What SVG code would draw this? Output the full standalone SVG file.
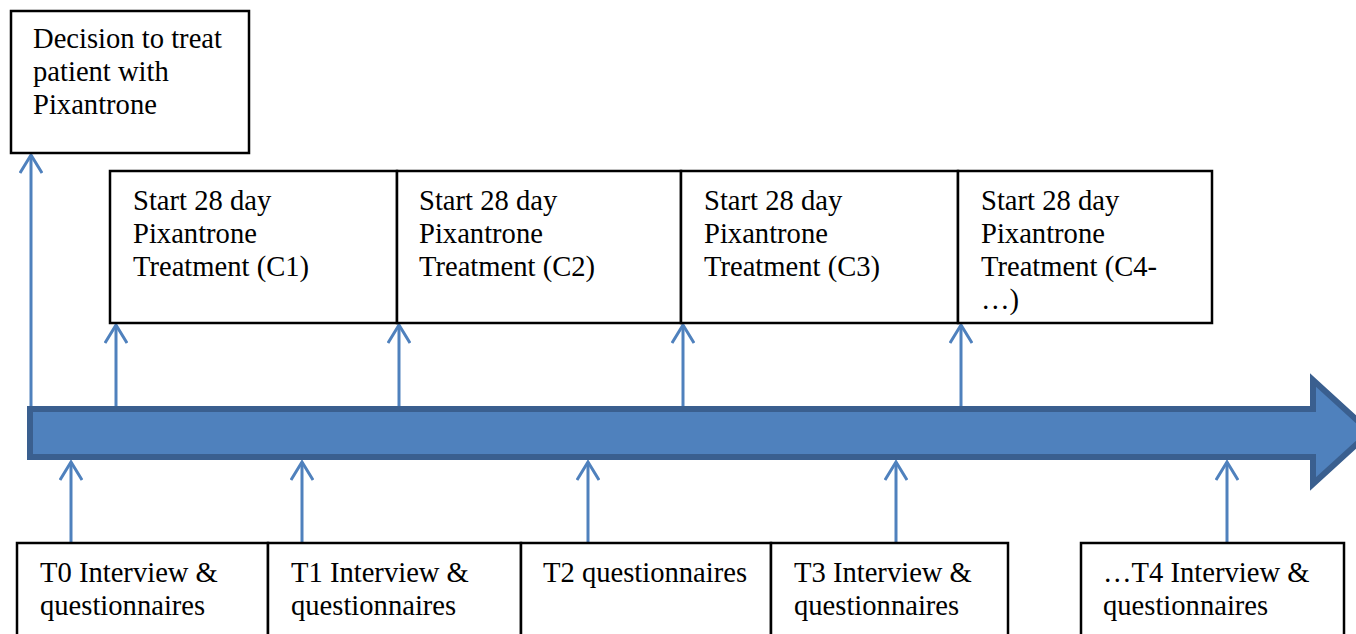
<svg xmlns="http://www.w3.org/2000/svg" width="1356" height="634" viewBox="0 0 1356 634">
<style>
.box{fill:#fff;stroke:#000;stroke-width:2.5}
.t{font-family:"Liberation Serif","Times New Roman",serif;font-size:28.6px;fill:#000}
.c{fill:none;stroke:#4F81BD;stroke-width:3}
</style>
<defs>
<marker id="ah" viewBox="-12 -2 24 22" markerWidth="24" markerHeight="22" refX="0" refY="0" orient="0" markerUnits="userSpaceOnUse">
<path d="M-11,18 L0,0 L11,18" fill="none" stroke="#4F81BD" stroke-width="3"/>
</marker>
</defs>
<rect width="1356" height="634" fill="#fff"/>
<g id="timeline">
<path d="M30,409 H1313 V380 L1370,432 L1313,484 V457 H30 Z" fill="#4F81BD" stroke="#3A5F8F" stroke-width="6" stroke-linejoin="miter"/>
</g>
<g id="connectors">
<line class="c" x1="31" y1="406" x2="31" y2="155" marker-end="url(#ah)"/>
<line class="c" x1="116" y1="406" x2="116" y2="325" marker-end="url(#ah)"/>
<line class="c" x1="399" y1="406" x2="399" y2="325" marker-end="url(#ah)"/>
<line class="c" x1="683" y1="406" x2="683" y2="325" marker-end="url(#ah)"/>
<line class="c" x1="961" y1="406" x2="961" y2="325" marker-end="url(#ah)"/>
<line class="c" x1="71" y1="543" x2="71" y2="462" marker-end="url(#ah)"/>
<line class="c" x1="302" y1="543" x2="302" y2="462" marker-end="url(#ah)"/>
<line class="c" x1="588" y1="543" x2="588" y2="462" marker-end="url(#ah)"/>
<line class="c" x1="896" y1="543" x2="896" y2="462" marker-end="url(#ah)"/>
<line class="c" x1="1227" y1="543" x2="1227" y2="462" marker-end="url(#ah)"/>
</g>
<g id="decision">
<rect class="box" x="11" y="11" width="238" height="142" stroke-width="3"/>
<text class="t" x="33" y="48">Decision to treat</text>
<text class="t" x="33" y="81">patient with</text>
<text class="t" x="33" y="114">Pixantrone</text>
</g>
<g id="c1">
<rect class="box" x="110" y="171" width="287" height="152"/>
<text class="t" x="133" y="210">Start 28 day</text>
<text class="t" x="133" y="243">Pixantrone</text>
<text class="t" x="133" y="276">Treatment (C1)</text>
</g>
<g id="c2">
<rect class="box" x="397" y="171" width="284" height="152"/>
<text class="t" x="419" y="210">Start 28 day</text>
<text class="t" x="419" y="243">Pixantrone</text>
<text class="t" x="419" y="276">Treatment (C2)</text>
</g>
<g id="c3">
<rect class="box" x="681" y="171" width="277" height="152"/>
<text class="t" x="704" y="210">Start 28 day</text>
<text class="t" x="704" y="243">Pixantrone</text>
<text class="t" x="704" y="276">Treatment (C3)</text>
</g>
<g id="c4">
<rect class="box" x="958" y="171" width="254" height="152"/>
<text class="t" x="981" y="210">Start 28 day</text>
<text class="t" x="981" y="243">Pixantrone</text>
<text class="t" x="981" y="276">Treatment (C4-</text>
<text class="t" x="981" y="309">…)</text>
</g>
<g id="t0">
<rect class="box" x="17" y="543" width="251" height="100"/>
<text class="t" x="40" y="582">T0 Interview &amp;</text>
<text class="t" x="40" y="615">questionnaires</text>
</g>
<g id="t1">
<rect class="box" x="268" y="543" width="253" height="100"/>
<text class="t" x="291" y="582">T1 Interview &amp;</text>
<text class="t" x="291" y="615">questionnaires</text>
</g>
<g id="t2">
<rect class="box" x="521" y="543" width="250" height="100"/>
<text class="t" x="543" y="582">T2 questionnaires</text>
</g>
<g id="t3">
<rect class="box" x="771" y="543" width="237" height="100"/>
<text class="t" x="794" y="582">T3 Interview &amp;</text>
<text class="t" x="794" y="615">questionnaires</text>
</g>
<g id="t4">
<rect class="box" x="1081" y="543" width="263" height="100"/>
<text class="t" x="1103" y="582">…T4 Interview &amp;</text>
<text class="t" x="1103" y="615">questionnaires</text>
</g>
</svg>
